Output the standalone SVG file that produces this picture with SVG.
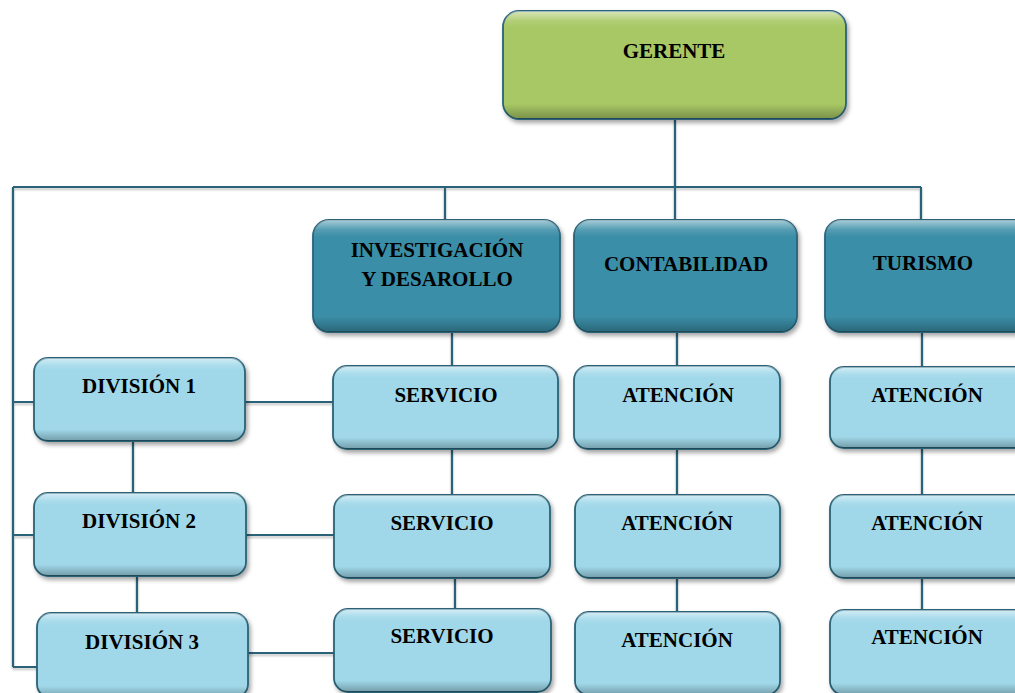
<svg xmlns="http://www.w3.org/2000/svg" width="1015" height="693" viewBox="0 0 1015 693">
<style>
.lbl{font-family:"Liberation Serif","Times New Roman",serif;font-weight:bold;font-size:21px;fill:#000;text-anchor:middle}
.box{stroke:#2a6378;stroke-width:1.8;filter:url(#sh)}
.g{fill:#a8c865}
.d{fill:#3a8ea7}
.l{fill:#a0d8e9}
.bev{fill:url(#bevel);stroke:none}
.c{fill:none;stroke:#2b6479;stroke-width:2.2}
</style>
<defs>
<filter id="sh" x="-10%" y="-10%" width="125%" height="135%">
<feDropShadow dx="2" dy="3" stdDeviation="2" flood-color="#000" flood-opacity="0.35"/>
</filter>
<filter id="lsh" x="-5%" y="-50%" width="110%" height="300%">
<feDropShadow dx="0" dy="2" stdDeviation="1.2" flood-color="#000" flood-opacity="0.25"/>
</filter>
<linearGradient id="bevel" x1="0" y1="0" x2="0" y2="1">
<stop offset="0" stop-color="#fff" stop-opacity="0.55"/>
<stop offset="0.09" stop-color="#fff" stop-opacity="0.12"/>
<stop offset="0.15" stop-color="#fff" stop-opacity="0"/>
<stop offset="0.86" stop-color="#000" stop-opacity="0"/>
<stop offset="1" stop-color="#000" stop-opacity="0.28"/>
</linearGradient>
</defs>
<rect width="1015" height="693" fill="#fff"/>
<g id="connectors" filter="url(#lsh)">
<path class="c" d="M675 119V187M13 187H921M13 187V667M445 187V220M675 187V220M921 187V220"/>
<path class="c" d="M13 402H35M13 535H35M13 667H38"/>
<path class="c" d="M245 402H333M246 535H334M248 653H334"/>
<path class="c" d="M133 441V493M137 576V613"/>
<path class="c" d="M452 332V366M452 449V495M455 578V609"/>
<path class="c" d="M677 332V366M677 449V495M677 578V612"/>
<path class="c" d="M922 332V367M922 448V495M922 578V612"/>
</g>
<g id="gerente"><rect class="box g" x="503" y="11" width="343" height="108" rx="16"/><rect class="bev" x="503" y="11" width="343" height="108" rx="16"/><text class="lbl" x="674" y="58">GERENTE</text></g>
<g id="inv"><rect class="box d" x="313" y="220" width="247" height="112" rx="16"/><rect class="bev" x="313" y="220" width="247" height="112" rx="16"/><text class="lbl" x="437" y="257">INVESTIGACIÓN</text><text class="lbl" x="437" y="286">Y DESAROLLO</text></g>
<g id="contab"><rect class="box d" x="574" y="220" width="223" height="112" rx="16"/><rect class="bev" x="574" y="220" width="223" height="112" rx="16"/><text class="lbl" x="686" y="271">CONTABILIDAD</text></g>
<g id="turismo"><rect class="box d" x="825" y="220" width="210" height="112" rx="16"/><rect class="bev" x="825" y="220" width="210" height="112" rx="16"/><text class="lbl" x="923" y="270">TURISMO</text></g>
<g id="div1"><rect class="box l" x="34" y="358" width="211" height="83" rx="14"/><rect class="bev" x="34" y="358" width="211" height="83" rx="14"/><text class="lbl" x="139" y="393">DIVISIÓN 1</text></g>
<g id="div2"><rect class="box l" x="34" y="493" width="212" height="83" rx="14"/><rect class="bev" x="34" y="493" width="212" height="83" rx="14"/><text class="lbl" x="139" y="528">DIVISIÓN 2</text></g>
<g id="div3"><rect class="box l" x="37" y="613" width="211" height="85" rx="14"/><rect class="bev" x="37" y="613" width="211" height="85" rx="14"/><text class="lbl" x="142" y="649">DIVISIÓN 3</text></g>
<g id="serv1"><rect class="box l" x="333" y="366" width="225" height="83" rx="14"/><rect class="bev" x="333" y="366" width="225" height="83" rx="14"/><text class="lbl" x="446" y="402">SERVICIO</text></g>
<g id="serv2"><rect class="box l" x="334" y="495" width="216" height="83" rx="14"/><rect class="bev" x="334" y="495" width="216" height="83" rx="14"/><text class="lbl" x="442" y="530">SERVICIO</text></g>
<g id="serv3"><rect class="box l" x="334" y="609" width="217" height="83" rx="14"/><rect class="bev" x="334" y="609" width="217" height="83" rx="14"/><text class="lbl" x="442" y="643">SERVICIO</text></g>
<g id="at1"><rect class="box l" x="574" y="366" width="206" height="83" rx="14"/><rect class="bev" x="574" y="366" width="206" height="83" rx="14"/><text class="lbl" x="678" y="402">ATENCIÓN</text></g>
<g id="at2"><rect class="box l" x="575" y="495" width="205" height="83" rx="14"/><rect class="bev" x="575" y="495" width="205" height="83" rx="14"/><text class="lbl" x="677" y="530">ATENCIÓN</text></g>
<g id="at3"><rect class="box l" x="575" y="612" width="205" height="83" rx="14"/><rect class="bev" x="575" y="612" width="205" height="83" rx="14"/><text class="lbl" x="677" y="647">ATENCIÓN</text></g>
<g id="at4"><rect class="box l" x="830" y="367" width="205" height="81" rx="14"/><rect class="bev" x="830" y="367" width="205" height="81" rx="14"/><text class="lbl" x="927" y="402">ATENCIÓN</text></g>
<g id="at5"><rect class="box l" x="830" y="495" width="205" height="83" rx="14"/><rect class="bev" x="830" y="495" width="205" height="83" rx="14"/><text class="lbl" x="927" y="530">ATENCIÓN</text></g>
<g id="at6"><rect class="box l" x="830" y="610" width="205" height="85" rx="14"/><rect class="bev" x="830" y="610" width="205" height="85" rx="14"/><text class="lbl" x="927" y="644">ATENCIÓN</text></g>
</svg>
